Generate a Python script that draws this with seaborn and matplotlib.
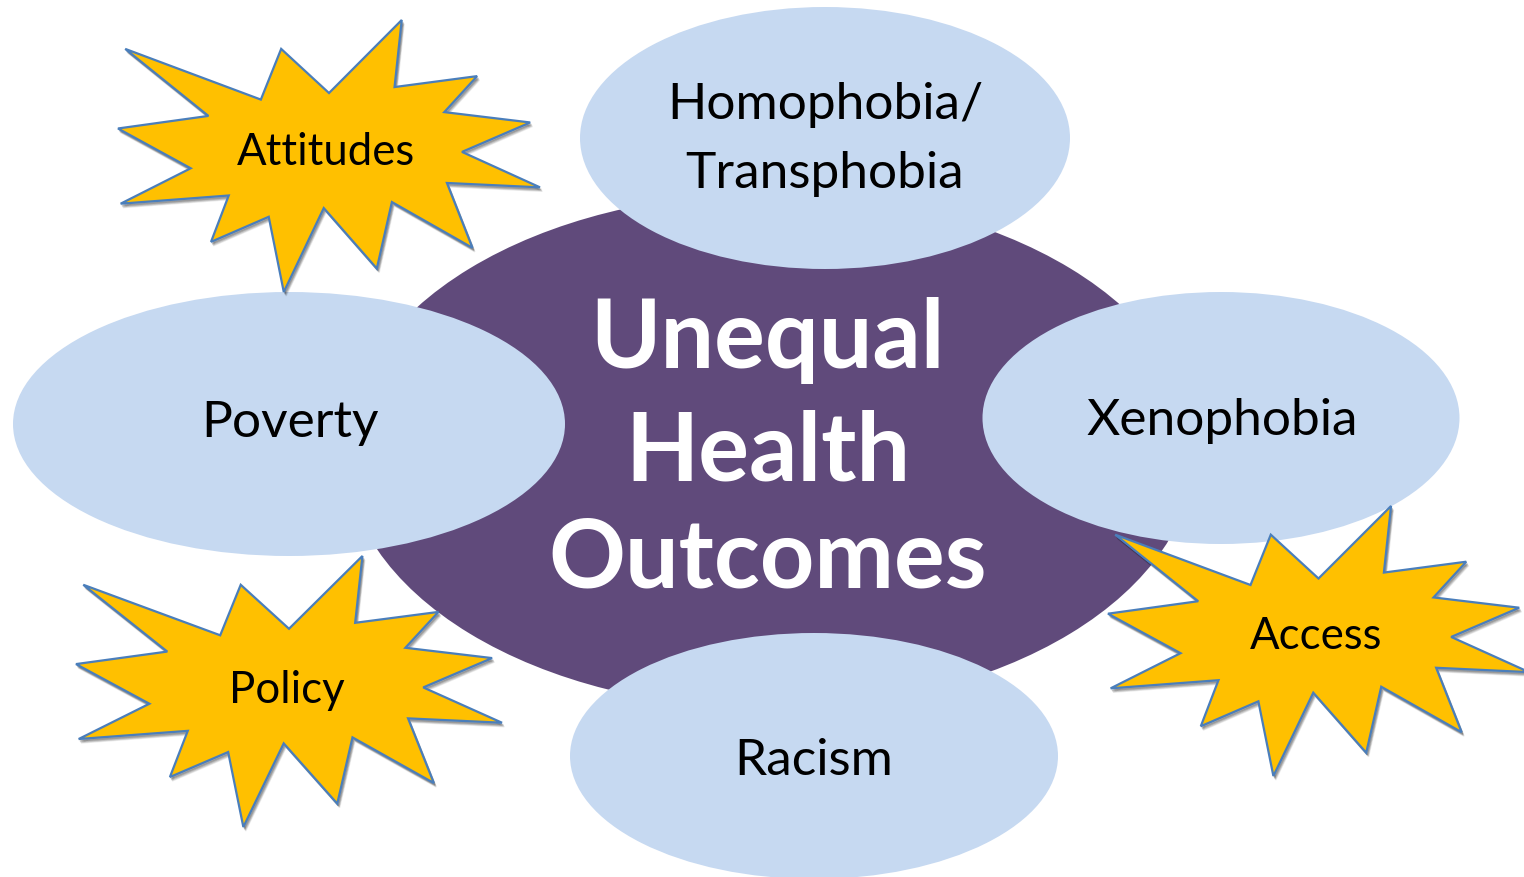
import numpy as np
import matplotlib.pyplot as plt
import seaborn as sns
from matplotlib.patches import Ellipse, Polygon

sns.set_theme(style="white")
plt.rcParams['font.family'] = ['Lato', 'DejaVu Sans']

# canvas size in pixels (y runs downwards like the slide)
W, H = 1524, 878

# centre circle
center_label = ["Unequal", "Health", "Outcomes"]
center_xy = (770, 452)
center_size = (850, 516)
center_baselines = [368, 481, 588]

# blue ovals
oval_labels = ["Homophobia/\nTransphobia", "Poverty", "Xenophobia", "Racism"]
oval_cx = [825, 289, 1221, 814]
oval_cy = [139, 425, 419, 757]
oval_w = [490, 552, 477, 488]
oval_h = [262, 264, 252, 246]
oval_text_x = [825, 290, 1222, 814]
oval_text_y = [[119, 188], [437], [435], [775]]

# explosion shapes (bounding boxes)
star_labels = ["Attitudes", "Policy", "Access"]
star_x0 = [118, 76, 1108]
star_y0 = [21, 557, 507]
star_w = [422, 426, 421]
star_h = [272, 271, 270]
star_text_xy = [(326, 165), (287, 703), (1316, 649)]

# PowerPoint "Explosion 1" outline, in 21600 units
seal = np.array([
    (10800, 5800), (14522, 0), (14155, 5325), (18380, 4457), (16702, 7315),
    (21097, 8137), (17607, 10475), (21600, 13290), (16837, 12942),
    (18145, 18095), (14020, 14457), (13247, 19737), (10532, 14935),
    (8485, 21600), (7715, 15627), (4762, 17617), (5667, 13937),
    (135, 14587), (3722, 11775), (0, 8615), (4627, 7617), (370, 2295),
    (7312, 6320), (8352, 2295)]) / 21600.0

purple = "#604A7B"
light_blue = "#C6D9F1"
gold = "#FFC000"
star_edge = "#4A7EBB"

fig = plt.figure(figsize=(W / 100, H / 100), dpi=100)
ax = fig.add_axes([0, 0, 1, 1])
ax.set_xlim(0, W)
ax.set_ylim(H, 0)
ax.set_aspect('equal')
ax.axis('off')

ax.add_patch(Ellipse(center_xy, center_size[0], center_size[1],
                     facecolor=purple, edgecolor='none', zorder=1))
for i, lab in enumerate(center_label):
    ax.text(center_xy[0] - 2, center_baselines[i], lab, color='white',
            fontsize=68.5, fontweight='bold', ha='center', va='baseline', zorder=5)

for i, lab in enumerate(oval_labels):
    ax.add_patch(Ellipse((oval_cx[i], oval_cy[i]), oval_w[i], oval_h[i],
                         facecolor=light_blue, edgecolor='none', zorder=2))
    for line, y in zip(lab.split("\n"), oval_text_y[i]):
        ax.text(oval_text_x[i], y, line, color='black', fontsize=37,
                ha='center', va='baseline', zorder=5)

for i, lab in enumerate(star_labels):
    pts = seal * [star_w[i], star_h[i]] + [star_x0[i], star_y0[i]]
    # soft shadow
    for k, a in [(4, 0.08), (3, 0.12), (2, 0.16)]:
        ax.add_patch(Polygon(pts + [k * 0.6, k], closed=True, facecolor='black',
                             edgecolor='black', linewidth=1.0, alpha=a, zorder=3))
    ax.add_patch(Polygon(pts, closed=True, facecolor=gold, edgecolor=star_edge,
                         linewidth=1.6, joinstyle='miter', zorder=4))
    ax.text(star_text_xy[i][0], star_text_xy[i][1], lab, color='black',
            fontsize=31.5, ha='center', va='baseline', zorder=5)

fig.savefig("out.png", dpi=100, facecolor='white')
